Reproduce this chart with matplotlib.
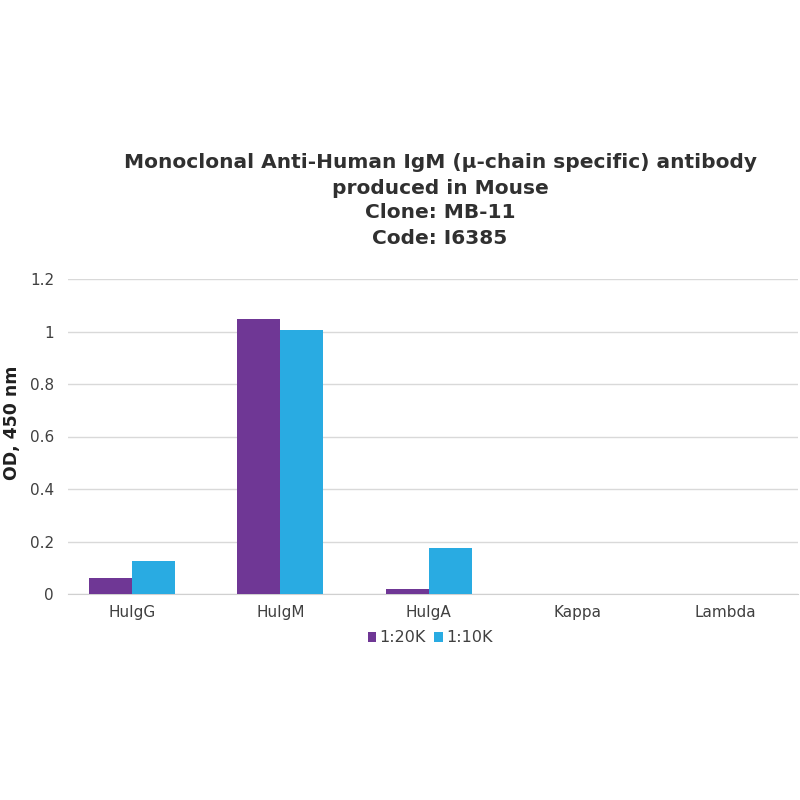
import numpy as np
import matplotlib.pyplot as plt

# -------- DATA --------
categories = ["HuIgG", "HuIgM", "HuIgA", "Kappa", "Lambda"]
od_20k = [0.061, 1.048, 0.018, 0.0, 0.0]
od_10k = [0.127, 1.005, 0.174, 0.0, 0.0]
series_labels = ["1:20K", "1:10K"]
title_lines = [
    "Monoclonal Anti-Human IgM (\u03bc-chain specific) antibody",
    "produced in Mouse",
    "Clone: MB-11",
    "Code: I6385",
]

# -------- PLOT --------
plt.rcParams['font.family'] = ['DejaVu Sans']
fig = plt.figure(figsize=(8, 8), dpi=100)
ax = fig.add_axes([0.085, 0.2575, 0.9125, 0.39375])

x = np.arange(len(categories))
w = 0.29
ax.bar(x - w / 2, od_20k, width=w, color='#6f3795', label=series_labels[0], zorder=3)
ax.bar(x + w / 2, od_10k, width=w, color='#29abe2', label=series_labels[1], zorder=3)

ax.set_xlim(-0.432, 4.49)
ax.set_ylim(0, 1.2)
ax.set_yticks([0, 0.2, 0.4, 0.6, 0.8, 1.0, 1.2])
ax.set_yticklabels(["0", "0.2", "0.4", "0.6", "0.8", "1", "1.2"])
ax.set_xticks(x)
ax.set_xticklabels(categories)
ax.tick_params(axis='both', length=0, labelsize=11, colors='#404040')
ax.tick_params(axis='y', pad=10)
ax.tick_params(axis='x', pad=8)
ax.yaxis.grid(True, color='#d9d9d9', linewidth=1, zorder=0)
for s in ['top', 'right', 'left']:
    ax.spines[s].set_visible(False)
ax.spines['bottom'].set_color('#d0d0d0')

ax.set_ylabel("OD, 450 nm", fontsize=12.5, fontweight='bold', color='#202020', labelpad=10)
ax.yaxis.set_label_coords(-0.065, 0.545)

for i, line in enumerate(title_lines):
    fig.text(0.55, 1 - (163 + 25 * i) / 800, line, ha='center', va='center',
             fontsize=14.5, fontweight='bold', color='#303030')

ax.legend(loc='upper center', bbox_to_anchor=(0.496, -0.07), ncol=2, frameon=False,
          fontsize=11.5, handlelength=0.55, handleheight=0.55, handletextpad=0.2,
          columnspacing=0.5, labelcolor='#404040')

fig.savefig("out.png", dpi=100)
